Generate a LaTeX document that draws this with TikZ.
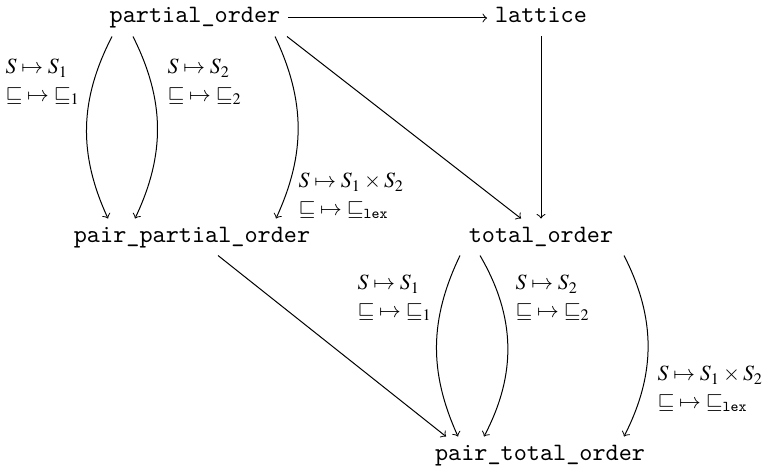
\documentclass[tikz,border=0pt]{standalone}
\usepackage{mathptmx}
\usetikzlibrary{calc}
\begin{document}
\begin{tikzpicture}[x=0.4pt,y=-0.4pt,
  obj/.style={font=\ttfamily, text height=6.2pt, text depth=2.2pt, inner sep=3pt},
  lbl/.style={font=\fontsize{8.7}{11}\selectfont, align=left, inner sep=0pt, anchor=west},
  arr/.style={->, line width=0.4pt}]
\useasboundingbox (0,0) rectangle (766,466);
\node[obj] (po)  at (195,18)  {partial\_order};
\node[obj] (lat) at (541,18)  {lattice};
\node[obj] (ppo) at (192,237) {pair\_partial\_order};
\node[obj] (to)  at (541,237) {total\_order};
\node[obj] (pto) at (540,455) {pair\_total\_order};

\draw[arr] (po) -- (lat);
\draw[arr] (lat) -- (to);
\draw[arr] ([xshift=36.8pt]po.south) -- ([xshift=-8pt]to.north);
\draw[arr] ([xshift=10.4pt]ppo.south) -- ([xshift=-37.6pt]pto.north);

\draw[arr] ([xshift=-33.2pt]po.south) to[bend right=26] ([xshift=-33.6pt]ppo.north);
\draw[arr] ([xshift=-24.8pt]po.south) to[bend left=26] ([xshift=-22.8pt]ppo.north);
\draw[arr] ([xshift=32pt]po.south) to[bend left=25] ([xshift=33.6pt]ppo.north);

\draw[arr] ([xshift=-32.4pt]to.south) to[bend right=25] ([xshift=-32.8pt]pto.north);
\draw[arr] ([xshift=-24.4pt]to.south) to[bend left=29] ([xshift=-22.4pt]pto.north);
\draw[arr] ([xshift=33.2pt]to.south) to[bend left=27] ([xshift=33.6pt]pto.north);

\node[lbl] (l1) at (5,82)   {$S\mapsto S_1$\\${\sqsubseteq}\mapsto{\sqsubseteq}_1$};
\node[lbl] (l2) at (167,82) {$S\mapsto S_2$\\${\sqsubseteq}\mapsto{\sqsubseteq}_2$};
\node[lbl] (l3) at (298,196) {$S\mapsto S_1\times S_2$\\${\sqsubseteq}\mapsto{\sqsubseteq}_{\mathtt{lex}}$};
\node[lbl] (l4) at (357,298) {$S\mapsto S_1$\\${\sqsubseteq}\mapsto{\sqsubseteq}_1$};
\node[lbl] (l5) at (515,298) {$S\mapsto S_2$\\${\sqsubseteq}\mapsto{\sqsubseteq}_2$};
\node[lbl] (l6) at (657,389) {$S\mapsto S_1\times S_2$\\${\sqsubseteq}\mapsto{\sqsubseteq}_{\mathtt{lex}}$};
\end{tikzpicture}
\end{document}
